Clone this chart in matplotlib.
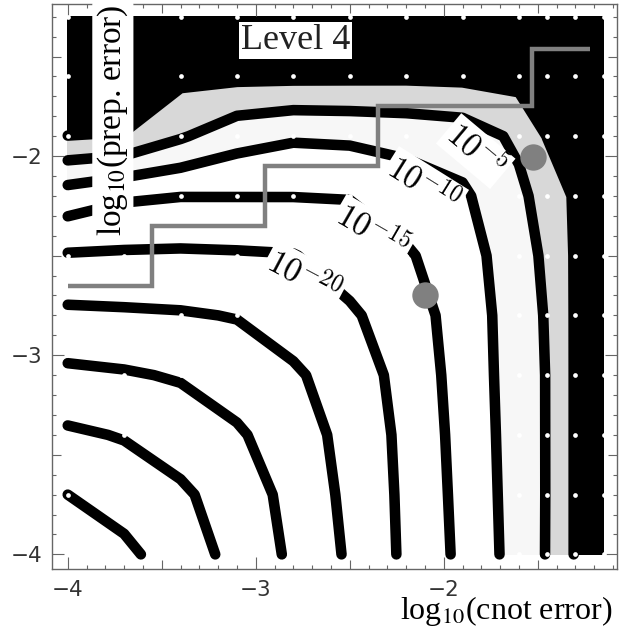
import numpy as np
import matplotlib.pyplot as plt
from matplotlib.ticker import MultipleLocator, FuncFormatter

# sample grid: log10(cnot error) along x, log10(prep. error) along y
cnot = [-4.0, -3.7, -3.4, -3.1, -2.8, -2.5, -2.2, -1.9, -1.6, -1.45, -1.3, -1.15]
prep = [-4.0, -3.7, -3.4, -3.1, -2.8, -2.5, -2.2, -1.9, -1.6, -1.3]

# log10 of the level-4 logical error, one row per prep value
logerr = [
    [-44.3, -41.1, -37.4, -33.5, -29.1, -24.3, -19.1, -13.9, -7.95, -4.76, 0.3, 6],
    [-40.0, -37.9, -35.8, -32.6, -28.5, -23.8, -19.0, -13.6, -7.83, -4.8, 0.3, 6],
    [-35.75, -34.7, -32.7, -30.6, -27.4, -23.4, -18.8, -13.3, -7.73, -4.8, 0.3, 6],
    [-31.0, -30.45, -29.6, -27.7, -25.7, -22.6, -18.3, -13.0, -7.62, -4.8, 0.3, 6],
    [-26.0, -25.7, -25.4, -24.8, -22.7, -20.7, -17.4, -12.8, -7.48, -4.6, 0.3, 6],
    [-20.4, -20.6, -20.7, -20.5, -20.2, -17.8, -15.6, -12.05, -7.23, -4.0, 0.3, 6],
    [-12.2, -14.3, -14.9, -14.9, -14.9, -14.8, -12.5, -10.7, -6.12, -2.83, 0.44, 6],
    [-0.1, -0.5, -4.5, -8.0, -9.4, -9.1, -8.5, -7.6, -4.0, 0.1, 4, 6],
    [10, 7, 1.1, 0.8, 0.7, 0.65, 0.6, 0.84, 1.45, 4, 6, 8],
    [12, 12, 12, 12, 12, 12, 12, 12, 12, 12, 12, 12],
]

line_levels = [-40, -35, -30, -25, -20, -15, -10, -5, 0]
fill_levels = [-100, -10, -5, 0, 100]
fill_colors = ['white', '#f7f7f7', '#d8d8d8', 'black']

# labelled contours
lab_text = [r'$10^{-5}$', r'$10^{-10}$', r'$10^{-15}$', r'$10^{-20}$']
lab_x = [-1.83, -2.108, -2.380, -2.743]
lab_y = [-1.975, -2.145, -2.380, -2.605]
lab_rot = [-40, -32, -30, -28]

# grey staircase and the two grey points
stair_x = [-4.0, -3.55, -2.95, -2.35, -1.53, -1.22]
stair_y = [-2.65, -2.35, -2.05, -1.75, -1.46]
pt_x = [-1.523, -2.098]
pt_y = [-2.003, -2.698]

fig = plt.figure(figsize=(6.28, 6.38), dpi=100)
ax = fig.add_axes([0.0833, 0.1086, 0.8987, 0.8846])

X, Y = np.meshgrid(cnot, prep)
Z = np.array(logerr)

ax.contourf(X, Y, Z, levels=fill_levels, colors=fill_colors, zorder=1)
cs = ax.contour(X, Y, Z, levels=line_levels, colors='black', linewidths=7.6,
                linestyles='solid', zorder=2)
cs.set_capstyle('round')
cs.set_joinstyle('round')

ax.plot(X.ravel(), Y.ravel(), 'o', color='white', ms=3.4, mew=0, zorder=3)
ax.stairs(stair_y, stair_x, baseline=None, color='#808080', lw=3.2, zorder=4)
ax.plot(pt_x, pt_y, 'o', color='#808080', ms=19, mew=0, zorder=5)

for t, x, y, r in zip(lab_text, lab_x, lab_y, lab_rot):
    ax.text(x, y, t, rotation=r, rotation_mode='anchor', ha='center', va='center',
            fontsize=24, math_fontfamily='cm', zorder=6,
            bbox=dict(boxstyle='square,pad=0.08', fc='white', ec='none'))

ax.text(-2.786, -1.462, 'Level 4', family='Liberation Serif', fontsize=26,
        ha='center', va='baseline', color='#222222', zorder=7,
        bbox=dict(boxstyle='square,pad=0.05', fc='white', ec='none'))

ax.text(-3.76, -1.82, 'log$_{10}$(prep. error)', rotation=90, ha='center', va='center',
        family='Liberation Serif', math_fontfamily='stix', fontsize=24, zorder=7,
        bbox=dict(boxstyle='round,pad=0.1', fc='white', ec='none'))
fig.text(0.9745, 0.043, 'log$_{10}$(cnot error)', ha='right', va='center',
         family='Liberation Serif', math_fontfamily='stix', fontsize=23)

ax.set_xlim(-4.082, -1.08)
ax.set_ylim(-4.072, -1.238)

fmt = FuncFormatter(lambda v, p: ('%d' % round(v)).replace('-', '\u2212') if abs(v - round(v)) < 1e-6 else '')
for axis in (ax.xaxis, ax.yaxis):
    axis.set_major_locator(MultipleLocator(0.5))
    axis.set_minor_locator(MultipleLocator(0.1))
    axis.set_major_formatter(fmt)
ax.tick_params(which='both', direction='in', top=True, right=True, color='#666666', width=0.8)
ax.tick_params(which='major', length=8.4, pad=7, labelsize=15.5, labelcolor='#333333')
ax.tick_params(axis='x', which='major', pad=8)
ax.tick_params(which='minor', length=3)
for sp in ax.spines.values():
    sp.set_color('#666666')
    sp.set_linewidth(1)

fig.canvas.draw()
for axis in (ax.xaxis, ax.yaxis):
    for tk in axis.get_major_ticks():
        v = tk.get_loc()
        if v is not None and abs(v - round(v)) > 1e-6:
            tk.tick1line.set_markersize(6.4)
            tk.tick2line.set_markersize(6.4)

fig.savefig('out.png', dpi=100)
